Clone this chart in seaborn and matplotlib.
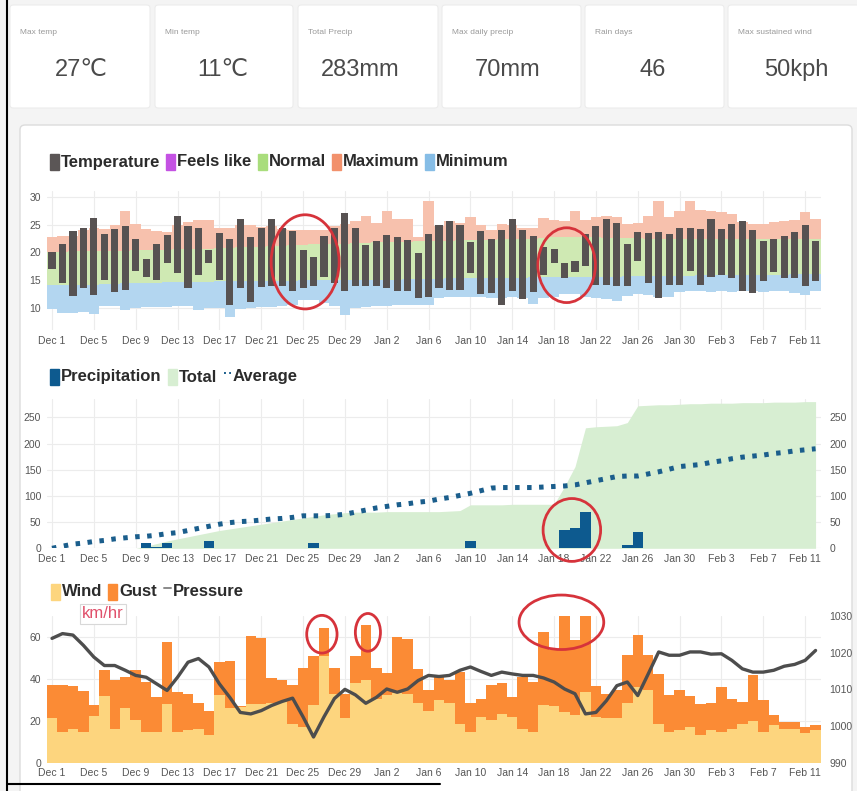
import numpy as np
import pandas as pd
import seaborn as sns
import matplotlib.pyplot as plt
from matplotlib.patches import Rectangle, Ellipse, FancyBboxPatch
from matplotlib.lines import Line2D

# ---- data (Dec 1 .. Feb 12, one value per day) ----
dates = pd.date_range("2019-12-01", "2020-02-12")
tick_labels = ["Dec 1", "Dec 5", "Dec 9", "Dec 13", "Dec 17", "Dec 21", "Dec 25",
               "Dec 29", "Jan 2", "Jan 6", "Jan 10", "Jan 14", "Jan 18", "Jan 22",
               "Jan 26", "Jan 30", "Feb 3", "Feb 7", "Feb 11"]

temp_hi = [20.1, 21.5, 23.8, 24.5, 26.2, 23.3, 24.2, 24.8, 22.4, 18.8, 21.5, 23.2, 26.5,
           24.8, 24.4, 20.4, 23.5, 22.5, 26.1, 22.7, 24.5, 26.1, 24.5, 23.8, 20.4, 19.2,
           23.0, 24.5, 27.1, 24.4, 21.3, 22.0, 23.2, 22.7, 22.2, 19.9, 23.3,
           24.9, 25.7, 25.0, 21.9, 23.9, 22.4, 24.1, 26.1, 24.1, 23.0, 21.0, 20.7, 18.1,
           18.5, 23.3, 24.7, 26.1, 25.3, 21.6, 23.7, 23.5, 23.7, 23.3, 24.5, 24.5, 24.2,
           26.1, 24.2, 25.1, 25.6, 24.1, 22.1, 22.4, 23.0, 23.6, 25.0, 22.1]
temp_lo = [17.1, 14.4, 12.2, 13.6, 12.4, 15.1, 12.8, 13.3, 16.6, 15.6, 15.1, 18.1, 16.3,
           13.6, 15.9, 18.1, 15.1, 10.5, 13.6, 11.0, 13.8, 13.9, 13.9, 13.0, 13.5, 13.9,
           15.5, 14.4, 13.0, 13.9, 14.0, 14.0, 13.6, 13.0, 13.0, 11.8, 11.9,
           13.5, 13.2, 13.3, 16.2, 12.5, 12.7, 10.5, 13.0, 11.6, 12.8, 15.9, 18.1, 15.3,
           16.4, 17.5, 14.2, 14.2, 13.9, 13.9, 18.5, 14.5, 11.8, 14.1, 14.1, 16.6, 14.1,
           15.6, 15.9, 15.3, 13.0, 12.7, 14.8, 16.4, 15.3, 15.3, 13.9, 14.8]
max_top = [22.7, 23.0, 23.0, 24.0, 24.5, 24.2, 25.0, 27.4, 25.1, 24.2, 23.8, 23.6, 25.0,
           25.5, 25.9, 25.9, 24.5, 24.4, 25.0, 25.0, 24.6, 24.8, 24.3, 24.0, 24.1, 24.1,
           24.1, 24.8, 25.2, 25.7, 26.5, 25.4, 27.4, 26.1, 26.0, 22.8, 29.2,
           24.8, 25.6, 25.3, 26.4, 25.0, 24.1, 25.2, 25.0, 24.4, 24.5, 26.2, 25.9, 25.6,
           27.4, 25.9, 26.4, 26.6, 26.4, 25.2, 25.3, 26.6, 29.2, 26.4, 27.4, 29.2, 27.6,
           27.4, 27.3, 27.0, 25.5, 25.2, 25.2, 25.5, 25.6, 25.8, 27.3, 26.1]
normal_hi = [20.1, 20.1, 20.2, 20.2, 20.2, 20.3, 20.3, 20.3, 20.4, 20.4, 20.5, 20.5, 20.6,
             20.6, 20.7, 20.7, 20.8, 20.8, 20.9, 21.0, 21.0, 21.1, 21.2, 21.3, 21.4, 21.5,
             21.5, 21.6, 21.6, 21.7, 21.7, 21.8, 21.8, 21.9, 21.9, 22.0, 22.0,
             22.1, 22.1, 22.2, 22.2, 22.3, 22.3, 22.4, 22.4, 22.5, 22.5, 22.6, 22.7, 22.8,
             22.8, 22.7, 22.7, 22.6, 22.6, 22.6, 22.6, 22.5, 22.5, 22.5, 22.5, 22.5, 22.5,
             22.5, 22.5, 22.4, 22.4, 22.4, 22.4, 22.4, 22.4, 22.4, 22.4, 22.4]
normal_lo = [14.1, 14.1, 14.2, 14.2, 14.2, 14.3, 14.3, 14.4, 14.4, 14.5, 14.5, 14.6, 14.6,
             14.7, 14.7, 14.7, 14.8, 14.8, 14.8, 14.8, 14.9, 14.9, 14.9, 14.9, 15.0, 15.0,
             15.0, 15.0, 15.0, 15.0, 15.1, 15.1, 15.1, 15.1, 15.2, 15.2, 15.2,
             15.2, 15.3, 15.3, 15.3, 15.3, 15.4, 15.4, 15.4, 15.4, 15.5, 15.5, 15.5, 15.5,
             15.5, 15.6, 15.6, 15.6, 15.6, 15.7, 15.7, 15.7, 15.8, 15.8, 15.8, 15.8, 15.9,
             15.9, 15.9, 15.9, 16.0, 16.0, 16.0, 16.0, 16.0, 16.1, 16.1, 16.1]
min_bot = [9.8, 9.0, 9.1, 9.3, 8.8, 10.3, 10.3, 9.6, 10.0, 10.1, 10.2, 10.2, 10.4, 10.3,
           9.6, 9.9, 10.0, 8.4, 9.8, 10.0, 10.1, 10.2, 10.3, 10.5, 11.4, 11.4, 10.8, 10.3,
           8.7, 10.0, 10.2, 10.3, 10.4, 10.5, 10.5, 10.6, 10.5,
           11.8, 11.9, 12.0, 12.0, 11.9, 11.7, 11.8, 11.9, 11.7, 10.7, 11.8, 11.9, 12.5,
           12.5, 11.9, 11.8, 11.6, 11.2, 12.2, 12.5, 12.4, 12.0, 11.9, 12.8, 13.0, 13.0,
           12.9, 13.0, 12.8, 13.0, 13.1, 12.9, 13.0, 13.0, 12.7, 12.4, 13.1]

precip = [0, 0, 0, 0, 0, 0, 0, 0, 0, 11, 2, 10, 0, 0, 0, 13, 1, 0, 0, 0.8, 0.8, 0.8,
          0, 0, 0, 10, 1, 0, 0, 0, 0, 0, 0, 1.5, 0, 0, 0,
          0, 0, 0, 13, 0, 0, 0, 0, 0, 0, 0, 0, 34, 38, 70, 0, 0, 0, 6, 32, 0, 0, 0,
          0, 1.5, 0, 0, 0, 0, 0, 0, 0, 0, 0, 1, 0, 0]
precip_total = [0, 0, 0, 0, 0, 0, 0, 0, 0, 4, 9, 14, 18, 22, 26, 30, 34, 37, 40, 43, 46,
                49, 52, 55, 58, 61, 64, 66, 68, 69, 69, 69, 70, 70, 70, 70, 70,
                70, 71, 72, 83, 83, 83, 83, 84, 84, 84, 84, 84, 118, 156, 230, 232, 233,
                234, 240, 272, 273, 274, 274, 275, 276, 276, 277, 277, 277, 278, 278,
                278, 279, 279, 279, 280, 280]
precip_avg = [0, 4, 8, 10, 13, 15, 18, 20, 22, 23, 25, 28, 30, 34, 38, 42, 46, 49, 51, 52,
              54, 56, 57, 59, 62, 62, 62, 63, 65, 69, 73, 77, 80, 83, 85, 88, 90,
              94, 97, 101, 105, 110, 115, 116, 116, 116, 116, 117, 118, 119, 121, 125,
              129, 133, 137, 138, 138, 142, 146, 151, 156, 158, 160, 164, 167, 171, 174,
              176, 178, 181, 183, 186, 188, 190]

gust = [37, 37, 36.5, 34.3, 27.5, 44.1, 39.7, 41, 44.1, 38.6, 31.4, 57.6, 33.8, 33, 28.6,
        24.6, 48.1, 48.4, 27, 60.3, 59.5, 40.2, 39.4, 37, 45.4, 50.8, 64.4, 45.4, 32.7, 51,
        65.6, 45.4, 42.9, 60, 59.2, 44.9, 34.9,
        42, 39.4, 43.3, 28.6, 30.6, 37, 37.8, 31.4, 41, 38.3, 62.4, 54, 70.6, 58.4, 69.8,
        36.5, 33, 34.6, 51.3, 60.8, 51.3, 42.5, 32.2, 34.6, 31.7, 27.9, 28.6, 36.2, 30.2,
        29, 41.7, 29.8, 22.7, 19.5, 19.5, 17.1, 17.9]
wind = [21.4, 14.8, 16.3, 14.8, 22.2, 31.7, 16.3, 25.9, 20.6, 14.8, 14.8, 27.8, 14.8, 15.6,
        15.9, 13.2, 32.2, 26.3, 26.7, 27.9, 27.9, 28.3, 29, 18.7, 17.1, 27.5, 50.8, 33, 21.1,
        37.8, 39.7, 30.6, 32.2, 33.3, 33, 28.3, 24.5,
        29.8, 28.3, 18.4, 14.8, 21.9, 20.6, 23.2, 21.9, 15.9, 14.8, 27.5, 27, 24.3, 22.7,
        33.5, 21.9, 21.1, 21.1, 28.3, 36.2, 34.9, 18.7, 14.8, 15.6, 17.1, 13.2, 15.6, 14.8,
        15.9, 18.7, 20, 14.8, 17.9, 15.9, 16.3, 14, 15.6]
pressure = [1023.9, 1025.2, 1024.8, 1022.0, 1018.8, 1016.5, 1016.5, 1015.2, 1013.8, 1013.3,
            1011.5, 1009.7, 1013.3, 1017.4, 1018.4, 1016.1, 1011.5, 1007.8, 1003.7, 1003.3,
            1004.2, 1005.6, 1006.7, 1007.6, 1002.5, 997.0, 1002.5, 1007.5, 1010.0, 1008.5,
            1006.2, 1007.8, 1010.1, 1009.2, 1010.1, 1012.4, 1013.8,
            1013.5, 1013.8, 1015.2, 1016.1, 1014.9, 1013.8, 1014.7, 1014.2, 1013.8, 1013.8,
            1013.1, 1012.0, 1010.1, 1008.8, 1003.3, 1003.7, 1006.9, 1011.0, 1012.0, 1008.3,
            1014.2, 1020.2, 1019.3, 1019.3, 1020.2, 1020.2, 1019.6, 1019.7, 1017.9, 1015.6,
            1014.7, 1014.7, 1015.2, 1016.3, 1016.8, 1017.9, 1020.6]

card_labels = ["Max temp", "Min temp", "Total Precip", "Max daily precip", "Rain days",
               "Max sustained wind"]
card_values = ["27\u2103", "11\u2103", "283mm", "70mm", "46", "50kph"]

# ---- style ----
sns.set_theme(style="whitegrid")
FONT = ["Liberation Sans", "DejaVu Sans"]
plt.rcParams["font.family"] = FONT

W, H = 857, 791
fig = plt.figure(figsize=(W / 100, H / 100), dpi=100)
fig.patch.set_facecolor("#f4f4f4")


def px_axes(x0, y0, x1, y1):
    ax = fig.add_axes([x0 / W, 1 - y1 / H, (x1 - x0) / W, (y1 - y0) / H])
    ax.set_zorder(2)
    return ax


def fx(x):
    return x / W


def fy(y):
    return 1 - y / H


days = np.arange(len(dates))
tick_pos = days[::4]
renderer = fig.canvas.get_renderer()

# stat cards
card_x = [10, 155, 298, 442, 585, 728]
card_w = [140, 138, 140, 139, 139, 135]
value_cx = [81, 223, 360, 508, 653, 796]
for i in range(6):
    fig.patches.append(FancyBboxPatch((fx(card_x[i]), fy(108)), fx(card_w[i]), 103 / H,
                                      boxstyle="round,pad=0,rounding_size=0.004",
                                      transform=fig.transFigure, fc="white",
                                      ec="#ececec", lw=0.8, zorder=0))
    fig.text(fx(card_x[i] + 10), fy(33), card_labels[i], fontsize=6, color="#9a9a9a",
             va="center")
    fig.text(fx(value_cx[i]), fy(70), card_values[i], fontsize=17, color="#4a4a4a",
             ha="center", va="center")

# main panel
fig.patches.append(FancyBboxPatch((fx(20), fy(795)), fx(832), 670 / H,
                                  boxstyle="round,pad=0,rounding_size=0.006",
                                  transform=fig.transFigure, fc="white", ec="#dcdcdc",
                                  lw=1.0, zorder=0))
fig.add_artist(Line2D([fx(7.5), fx(7.5)], [0, 1], color="black", lw=1.5))
fig.add_artist(Line2D([fx(7.5), fx(440)], [fy(783.5), fy(783.5)], color="black", lw=1.5))


def legend_row(x, y, items):
    for label, color, kind in items:
        if kind == "box":
            fig.patches.append(Rectangle((fx(x), fy(y + 8)), 9 / W, 16 / H,
                                         transform=fig.transFigure, color=color, zorder=3))
            x += 11
        else:
            fig.add_artist(Line2D([fx(x + 1), fx(x + 8)], [fy(y - 4), fy(y - 4)],
                                  color=color, lw=1.4, ls=kind))
            x += 10
        t = fig.text(fx(x), fy(y), label, fontsize=12, fontweight="bold",
                     color="#2b2b2b", va="center")
        x += t.get_window_extent(renderer).width + 6


def style_axes(ax, yticks):
    ax.set_facecolor("none")
    ax.set_xlim(-0.5, 73.5)
    ax.set_xticks(tick_pos)
    ax.set_xticklabels(tick_labels)
    ax.set_yticks(yticks)
    ax.grid(True, color="#ececec", lw=0.8)
    ax.tick_params(length=0, labelsize=7.5, labelcolor="#555555", pad=4)
    for s in ax.spines.values():
        s.set_visible(False)
    ax.set_axisbelow(True)


def style_right(ax, yticks):
    ax.set_yticks(yticks)
    ax.set_ylabel("")
    ax.grid(False)
    ax.tick_params(length=0, labelsize=7.5, labelcolor="#555555", pad=6)
    for s in ax.spines.values():
        s.set_visible(False)


# ---- temperature panel ----
ax1 = px_axes(46.8, 191.5, 820.8, 330)
lo_b, hi_b = np.array(min_bot), np.array(normal_lo)
ax1.bar(days, hi_b - lo_b, bottom=lo_b, width=1.0, color="#b3d6f0", lw=0)
ax1.bar(days, np.array(normal_hi) - hi_b, bottom=hi_b, width=1.0, color="#cfe9b3", lw=0)
ax1.bar(days, np.array(max_top) - np.array(normal_hi), bottom=normal_hi, width=1.0,
        color="#f7c1ad", lw=0)
ax1.bar(days, np.array(temp_hi) - np.array(temp_lo), bottom=temp_lo, width=0.68,
        color="#575252", lw=0)
ax1.set_ylim(6, 31)
style_axes(ax1, [10, 15, 20, 25, 30])
for cx, cy, w, h in [(24.2, 18.3, 6.5, 17.0), (49.2, 17.7, 5.5, 13.5)]:
    ax1.add_patch(Ellipse((cx, cy), w, h, fill=False, ec="#d6333b", lw=2.0, clip_on=False))
legend_row(50, 162, [("Temperature", "#5b5656", "box"), ("Feels like", "#c452e3", "box"),
                     ("Normal", "#a9dd7c", "box"), ("Maximum", "#f2916c", "box"),
                     ("Minimum", "#86bde6", "box")])

# ---- precipitation panel ----
ax2 = px_axes(46.8, 399, 820.8, 548.3)
ax2.fill_between(days, precip_total, color="#d7eed2", lw=0)
ax2.bar(days, precip, width=1.0, color="#0d5a8f", lw=0)
sns.lineplot(x=days, y=precip_avg, ax=ax2, color="#1b5e8c", lw=3.6,
             linestyle=(0, (0.9, 1.5)))
ax2.set_ylim(0, 285)
style_axes(ax2, [0, 50, 100, 150, 200, 250])
ax2r = ax2.twinx()
ax2r.set_ylim(0, 285)
style_right(ax2r, [0, 50, 100, 150, 200, 250])
ax2.add_patch(Ellipse((49.7, 35), 5.5, 120, fill=False, ec="#d6333b", lw=2.0,
                      clip_on=False))
legend_row(50, 377, [("Precipitation", "#0d5a8f", "box"), ("Total", "#d7eed2", "box"),
                     ("Average", "#1b5e8c", ":")])

# ---- wind panel ----
ax3 = px_axes(46.8, 616, 820.8, 762.7)
ax3.bar(days, gust, width=1.0, color="#fb8b35", lw=0)
ax3.bar(days, wind, width=1.0, color="#fdd57e", lw=0)
ax3.set_ylim(0, 70)
style_axes(ax3, [0, 20, 40, 60])
ax3r = ax3.twinx()
sns.lineplot(x=days, y=pressure, ax=ax3r, color="#4d4d4d", lw=2.4)
ax3r.set_ylim(990, 1030)
style_right(ax3r, [990, 1000, 1010, 1020, 1030])
for cx, cy, w, h in [(25.8, 61.3, 2.9, 18), (30.2, 62.2, 2.4, 18), (48.7, 67.0, 8.1, 26)]:
    ax3.add_patch(Ellipse((cx, cy), w, h, fill=False, ec="#d6333b", lw=2.0,
                          clip_on=False, zorder=5))
legend_row(51, 592, [("Wind", "#fdd57e", "box"), ("Gust", "#fb8b35", "box"),
                     ("Pressure", "#8a8a8a", "-")])
fig.text(fx(103), fy(614), "km/hr", fontsize=12, color="#e0506b", ha="center",
         va="center", zorder=6,
         bbox=dict(boxstyle="square,pad=0.15", fc="white", ec="#d8d8d8", lw=0.8))

fig.savefig("out.png", dpi=100, facecolor=fig.get_facecolor())
